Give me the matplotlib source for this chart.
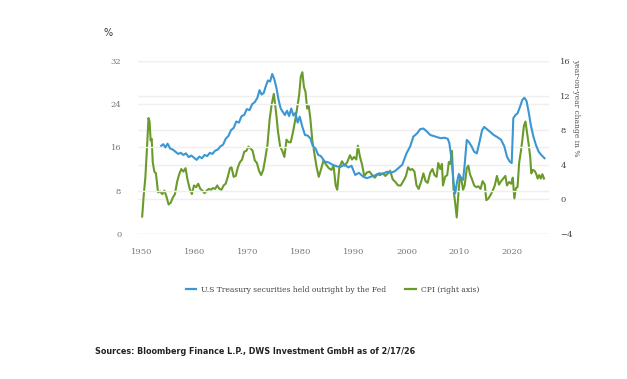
import matplotlib.pyplot as plt
from matplotlib.lines import Line2D

# Treasury securities held outright by the Fed, % (left axis)
fed_years = [1953.6, 1954.0, 1954.4, 1954.8, 1955.3, 1955.8, 1956.3, 1956.8, 1957.3, 1957.8,
             1958.3, 1958.8, 1959.3, 1959.8, 1960.3, 1960.8, 1961.3, 1961.8, 1962.3, 1962.8,
             1963.3, 1963.8, 1964.3, 1964.8, 1965.3, 1965.8, 1966.3, 1966.8, 1967.3, 1967.8,
             1968.3, 1968.8, 1969.3, 1969.8, 1970.3, 1970.8, 1971.3, 1971.8, 1972.2, 1972.6,
             1973.0, 1973.4, 1973.8, 1974.2, 1974.6, 1975.0, 1975.4, 1975.8, 1976.2, 1976.6,
             1977.0, 1977.4, 1977.8, 1978.2, 1978.6, 1979.0, 1979.4, 1979.8, 1980.3, 1980.8,
             1981.3, 1981.8, 1982.3, 1982.8, 1983.3, 1983.8, 1984.5, 1985.3, 1986.0, 1986.8,
             1987.5, 1988.3, 1989.0, 1989.6, 1990.3, 1991.0, 1991.8, 1992.5, 1993.3, 1994.0,
             1994.8, 1995.5, 1996.3, 1997.0, 1997.8, 1998.5, 1999.2, 2000.0, 2000.7, 2001.3,
             2002.0, 2002.6, 2003.2, 2003.8, 2004.5, 2005.2, 2005.8, 2006.5, 2007.2, 2007.8,
             2008.1, 2008.5, 2008.9, 2009.2, 2009.6, 2009.9, 2010.3, 2010.7, 2011.0, 2011.4,
             2011.8, 2012.3, 2012.8, 2013.3, 2013.8, 2014.3, 2014.7, 2015.2, 2015.8, 2016.5,
             2017.2, 2017.9, 2018.5, 2019.0, 2019.5, 2019.9, 2020.2, 2020.6, 2021.0, 2021.5,
             2021.9, 2022.3, 2022.7, 2023.1, 2023.5, 2024.0, 2024.5, 2025.0, 2025.5, 2026.1]
fed_share = [16.3, 16.6, 16.0, 16.7, 15.8, 15.6, 15.2, 14.8, 15.0, 14.6,
             14.9, 14.2, 14.5, 14.1, 13.7, 14.3, 14.0, 14.6, 14.4, 15.0,
             14.8, 15.4, 15.6, 16.2, 16.5, 17.6, 18.1, 19.2, 19.6, 20.8,
             20.6, 21.8, 22.0, 23.1, 22.9, 24.0, 24.4, 25.2, 26.6, 25.8,
             26.1, 27.4, 28.4, 28.2, 29.6, 28.6, 27.0, 24.8, 23.2, 22.6,
             22.0, 22.8, 21.8, 23.2, 21.9, 22.4, 20.6, 21.7, 19.8, 18.3,
             18.2, 17.7, 16.2, 15.8, 14.6, 14.4, 13.4, 13.2, 12.8, 12.5,
             12.4, 12.8, 12.3, 12.6, 10.9, 11.3, 10.6, 10.3, 10.6, 10.8,
             11.2, 11.1, 11.5, 11.3, 11.6, 12.2, 12.8, 14.9, 16.2, 18.0,
             18.6, 19.4, 19.5, 19.0, 18.3, 18.1, 17.9, 17.7, 17.8, 17.6,
             16.8, 14.0, 9.5, 7.5, 9.8, 11.1, 10.4, 10.0, 12.8, 17.4,
             17.0, 16.2, 15.2, 14.9, 17.0, 19.2, 19.8, 19.4, 18.9, 18.3,
             17.9, 17.4, 16.2, 14.3, 13.4, 13.1, 21.4, 22.0, 22.3, 23.6,
             24.8, 25.2, 24.6, 22.6, 20.2, 18.0, 16.4, 15.2, 14.6, 14.0]

# CPI, year-on-year change in % (right axis)
cpi_years = [1950.0, 1950.3, 1950.6, 1950.9, 1951.2, 1951.4, 1951.6, 1951.8, 1952.0, 1952.3,
             1952.6, 1953.0, 1953.4, 1953.8, 1954.2, 1954.6, 1955.0, 1955.4, 1955.8, 1956.2,
             1956.6, 1957.0, 1957.4, 1957.8, 1958.2, 1958.6, 1959.0, 1959.4, 1959.8, 1960.2,
             1960.6, 1961.0, 1961.4, 1961.8, 1962.2, 1962.6, 1963.0, 1963.4, 1963.8, 1964.2,
             1964.6, 1965.0, 1965.4, 1965.8, 1966.2, 1966.6, 1966.9, 1967.3, 1967.7, 1968.1,
             1968.5, 1968.9, 1969.3, 1969.7, 1970.1, 1970.5, 1970.9, 1971.3, 1971.7, 1972.1,
             1972.5, 1972.9, 1973.3, 1973.7, 1974.1, 1974.5, 1974.9, 1975.3, 1975.7, 1976.1,
             1976.5, 1976.9, 1977.3, 1977.7, 1978.1, 1978.5, 1978.9, 1979.3, 1979.7, 1980.0,
             1980.3, 1980.6, 1980.9, 1981.2, 1981.5, 1981.8, 1982.2, 1982.6, 1983.0, 1983.4,
             1983.8, 1984.3, 1984.8, 1985.3, 1985.8, 1986.2, 1986.6, 1986.9, 1987.3, 1987.8,
             1988.3, 1988.8, 1989.3, 1989.7, 1990.1, 1990.5, 1990.8, 1991.2, 1991.6, 1992.0,
             1992.5, 1993.0, 1993.5, 1994.0, 1994.5, 1995.0, 1995.5, 1996.0, 1996.5, 1996.9,
             1997.4, 1997.9, 1998.4, 1998.9, 1999.4, 1999.9, 2000.3, 2000.7, 2001.1, 2001.5,
             2001.9, 2002.3, 2002.8, 2003.2, 2003.6, 2004.0, 2004.5, 2004.9, 2005.3, 2005.7,
             2006.0, 2006.4, 2006.7, 2006.9, 2007.3, 2007.7, 2008.0, 2008.3, 2008.6, 2008.9,
             2009.2, 2009.5, 2009.8, 2010.1, 2010.4, 2010.7, 2011.0, 2011.4, 2011.7, 2012.0,
             2012.4, 2012.8, 2013.2, 2013.6, 2014.0, 2014.4, 2014.8, 2015.1, 2015.5, 2015.9,
             2016.3, 2016.7, 2017.1, 2017.5, 2017.9, 2018.3, 2018.7, 2019.0, 2019.4, 2019.8,
             2020.1, 2020.4, 2020.7, 2021.0, 2021.3, 2021.6, 2021.9, 2022.2, 2022.5, 2022.8,
             2023.1, 2023.4, 2023.6, 2023.9, 2024.2, 2024.5, 2024.8, 2025.1, 2025.4, 2025.7,
             2026.0]
cpi_yoy = [-2.0, 0.5, 2.5, 5.8, 9.4, 9.0, 6.8, 7.0, 4.3, 3.2,
           3.0, 0.8, 0.9, 0.6, 1.0, 0.3, -0.6, -0.4, 0.2, 0.6,
           2.0, 2.9, 3.5, 3.2, 3.6, 2.2, 1.2, 0.6, 1.6, 1.4,
           1.8, 1.2, 1.0, 0.7, 1.0, 1.2, 1.1, 1.3, 1.2, 1.6,
           1.2, 1.1, 1.6, 1.8, 2.6, 3.6, 3.7, 2.6, 2.7, 3.7,
           4.3, 4.6, 5.5, 5.6, 6.1, 5.9, 5.6, 4.5, 4.2, 3.3,
           2.8, 3.4, 4.8, 6.3, 9.2, 11.0, 12.2, 10.2, 7.8, 6.1,
           5.6, 4.9, 6.9, 6.6, 6.6, 7.7, 9.0, 10.5, 12.1, 14.2,
           14.7, 13.0, 12.4, 10.5, 10.8, 9.4, 6.7, 5.2, 3.7, 2.6,
           3.4, 4.5, 4.0, 3.6, 3.4, 3.9, 1.6, 1.1, 3.7, 4.4,
           3.9, 4.3, 5.1, 4.6, 4.9, 4.6, 6.2, 4.9, 4.0, 2.7,
           3.1, 3.2, 2.8, 2.5, 2.9, 2.8, 3.0, 2.7, 3.0, 3.3,
           2.3, 2.0, 1.6, 1.6, 2.1, 2.7, 3.7, 3.4, 3.5, 3.2,
           1.6, 1.2, 2.1, 3.0, 2.1, 1.9, 3.1, 3.5, 2.8, 2.6,
           4.2, 3.5, 4.1, 1.6, 2.6, 2.8, 4.3, 4.1, 5.6, 1.1,
           -0.4, -2.1, 0.5, 2.7, 2.2, 1.1, 1.6, 3.6, 3.9, 2.9,
           2.3, 1.6, 1.4, 1.5, 1.2, 2.1, 1.7, -0.1, 0.1, 0.5,
           1.0, 1.6, 2.7, 1.7, 2.1, 2.4, 2.7, 1.6, 2.0, 1.8,
           2.5, 0.1, 1.3, 1.4, 4.2, 5.4, 6.8, 8.5, 9.0, 7.7,
           6.4, 4.9, 3.0, 3.4, 3.3, 3.0, 2.4, 2.8, 2.4, 2.9,
           2.4]

blue = '#3b97d3'
green = '#6a9b2a'
grid_col = '#efefef'

fig = plt.figure(figsize=(6.27, 3.79), dpi=100)
ax = fig.add_axes([0.220, 0.383, 0.656, 0.456])
ax2 = ax.twinx()

ax.plot(fed_years, fed_share, color=blue, linewidth=1.5, zorder=3)
ax2.plot(cpi_years, cpi_yoy, color=green, linewidth=1.5, zorder=3)

ax.set_xlim(1949.2, 2027.0)
ax.set_ylim(0, 32)
ax2.set_ylim(-4, 16)
ax.set_yticks([0, 8, 16, 24, 32])
ax2.set_yticks([-4, 0, 4, 8, 12, 16])
ax.set_xticks(range(1950, 2030, 10))

for a in (ax, ax2):
    a.grid(axis='y', color=grid_col, linewidth=1.0)
    a.set_axisbelow(True)
    for s in a.spines.values():
        s.set_visible(False)
    a.tick_params(length=0)
ax.grid(axis='x', visible=False)
ax.set_zorder(ax2.get_zorder() + 1)
ax.patch.set_visible(False)

tick_font = dict(family='DejaVu Serif', size=6)
for lab in ax.get_xticklabels():
    lab.set(**tick_font, color='#777777')
for lab in ax.get_yticklabels():
    lab.set(**tick_font, color='#777777')
for lab in ax2.get_yticklabels():
    lab.set(**tick_font, color='#444444')
ax.tick_params(axis='x', pad=10)
ax.tick_params(axis='y', pad=12)
ax2.tick_params(axis='y', pad=8)

ax2.set_ylabel('year-on-year change in %', rotation=-90, family='DejaVu Serif',
               fontsize=5.5, color='#555555', va='center', ha='center')
ax2.yaxis.set_label_coords(1.065, 0.73)

fig.text(0.165, 0.905, '%', fontsize=7, color='#333333', family='DejaVu Sans')

handles = [Line2D([], [], color=blue, linewidth=1.6),
           Line2D([], [], color=green, linewidth=1.6)]
fig.legend(handles, ['U.S Treasury securities held outright by the Fed', 'CPI (right axis)'],
           loc='center', bbox_to_anchor=(0.53, 0.235), ncol=2, frameon=False,
           prop={'family': 'DejaVu Serif', 'size': 5.5}, handlelength=1.4,
           columnspacing=2.5, handletextpad=0.6, labelcolor='#444444')

fig.text(0.152, 0.065, 'Sources: Bloomberg Finance L.P., DWS Investment GmbH as of 2/17/26',
         fontsize=5.8, fontweight='bold', color='#222222', family='DejaVu Sans')

fig.savefig('out.png', dpi=100)
